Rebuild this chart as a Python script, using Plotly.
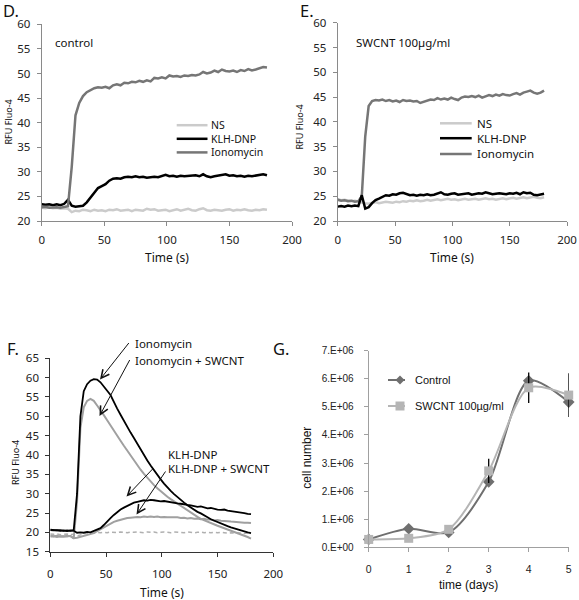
import plotly.graph_objects as go

W, H = 579, 600

# ---------------- data ----------------
time_s = list(range(0, 181, 3))

# Panel D (control)
d_ns = [22.7, 22.6, 22.8, 22.6, 22.7, 22.5, 22.6, 22.5, 21.8, 22.1, 22.0, 22.3, 22.2, 22.0, 22.3, 22.1,
        22.2, 22.0, 22.3, 22.2, 22.4, 22.1, 22.2, 22.3, 22.0, 22.3, 22.2, 22.1, 22.5, 22.3, 22.4, 22.1,
        22.2, 22.3, 22.0, 22.2, 22.4, 22.1, 22.3, 22.5, 22.2, 22.1, 22.4, 22.6, 22.2, 22.1, 22.3, 22.2,
        22.1, 22.3, 22.4, 22.1, 22.3, 22.2, 22.4, 22.2, 22.1, 22.3, 22.2, 22.4, 22.3]
d_klh = [23.4, 23.3, 23.4, 23.2, 23.4, 23.2, 23.5, 24.3, 23.1, 22.9, 23.0, 23.1, 23.8, 24.8, 25.8, 26.7,
         27.1, 27.5, 28.2, 28.6, 28.7, 28.6, 28.9, 29.0, 28.9, 29.1, 28.9, 29.0, 28.8, 28.9, 29.0, 28.9,
         29.2, 29.4, 29.1, 29.2, 29.0, 29.2, 29.1, 29.2, 29.2, 29.3, 29.1, 29.5, 29.1, 28.9, 29.1, 29.2,
         29.4, 29.5, 29.2, 29.3, 29.1, 29.2, 29.0, 29.2, 29.1, 29.2, 29.3, 29.5, 29.3]
d_iono = [22.8, 22.9, 22.7, 22.8, 22.8, 22.7, 22.8, 23.0, 31.0, 41.5, 44.0, 45.4, 46.2, 46.6, 47.0, 47.2,
          47.1, 47.3, 47.0, 47.6, 47.8, 47.6, 48.1, 48.0, 48.3, 48.2, 48.5, 48.3, 48.6, 48.4, 49.1, 49.0,
          49.2, 49.0, 49.6, 49.4, 49.5, 49.3, 49.6, 49.5, 49.7, 49.6, 49.8, 50.3, 50.0, 50.2, 50.6, 50.3,
          50.8, 50.5, 50.4, 50.6, 50.3, 50.7, 50.5, 50.9, 50.6, 50.8, 51.0, 51.3, 51.2]

# Panel E (SWCNT 100 ug/ml)
e_ns = [24.4, 24.2, 24.3, 24.1, 24.0, 24.1, 23.9, 23.8, 23.6, 23.5, 23.6, 23.8, 23.6, 23.7, 23.9, 23.8,
        23.7, 23.9, 23.8, 24.0, 23.9, 24.1, 24.0, 24.2, 24.0, 24.1, 24.3, 24.1, 24.2, 24.4, 24.2, 24.3,
        24.5, 24.3, 24.4, 24.2, 24.4, 24.5, 24.3, 24.4, 24.5, 24.3, 24.4, 24.6, 24.4, 24.5, 24.3, 24.5,
        24.6, 24.4, 24.5, 24.7, 24.5, 24.6, 24.8, 24.6, 24.7, 24.9, 24.7, 24.6, 24.8]
e_klh = [22.9, 23.0, 22.9, 23.1, 23.0, 23.1, 23.0, 25.2, 22.5, 22.8, 23.6, 24.2, 24.5, 24.9, 25.2, 25.1,
         25.4, 25.3, 25.6, 25.7, 25.5, 25.2, 25.3, 25.1, 25.3, 25.2, 25.4, 25.2, 25.3, 25.5, 25.8, 25.4,
         25.3, 25.5, 25.6, 25.3, 25.4, 25.5, 25.6, 25.3, 25.4, 25.6, 25.5, 25.8, 25.6, 25.4, 25.5, 25.6,
         25.5, 25.4, 25.6, 25.5, 25.7, 25.4, 25.8, 25.6, 25.7, 25.3, 25.2, 25.4, 25.5]
e_iono = [24.3, 24.1, 24.2, 24.0, 24.1, 23.9, 24.0, 25.0, 37.0, 43.2, 44.2, 44.4, 44.3, 44.5, 44.2, 44.4,
          44.1, 44.3, 44.0, 44.4, 44.2, 44.3, 44.1, 44.2, 43.8, 44.0, 44.3, 44.5, 44.4, 44.8, 44.5, 44.7,
          44.5, 44.9, 44.6, 44.4, 44.9, 45.1, 45.0, 45.2, 45.0, 45.3, 44.9, 45.2, 45.4, 45.2, 45.5, 45.3,
          45.6, 45.4, 45.3, 45.6, 45.8, 45.5, 45.9, 46.1, 46.3, 45.9, 45.7, 45.9, 46.3]

# Panel F
f_iono = [20.7, 20.6, 20.5, 20.6, 20.4, 20.5, 20.4, 20.6, 30.0, 50.0, 56.5, 58.3, 59.2, 59.6, 59.5, 58.8,
          57.8, 56.6, 55.5, 53.6, 52.0, 50.4, 48.8, 47.3, 45.8, 44.4, 42.9, 41.4, 40.0, 38.6, 37.3, 36.0,
          34.8, 33.7, 32.6, 31.6, 30.7, 29.9, 29.1, 28.3, 27.7, 27.0, 26.4, 25.9, 25.3, 24.9, 24.3, 23.9,
          23.4, 23.0, 22.6, 22.2, 21.9, 21.6, 21.3, 21.0, 20.8, 20.6, 20.3, 20.0, 19.8]
f_iono_swcnt = [19.2, 19.0, 19.1, 18.9, 19.0, 18.9, 19.1, 18.4, 28.0, 47.0, 52.3, 54.0, 54.5, 54.0, 52.8, 51.4,
                50.3, 49.0, 47.6, 46.3, 45.0, 43.7, 42.4, 41.1, 39.8, 38.6, 37.4, 36.2, 35.1, 34.1, 33.1, 32.2,
                31.4, 30.6, 29.9, 29.2, 28.6, 28.0, 27.4, 26.8, 26.2, 25.6, 25.0, 24.5, 24.0, 23.5, 23.1, 22.7,
                22.4, 22.0, 21.7, 21.4, 21.1, 20.8, 20.5, 20.2, 19.9, 19.6, 19.2, 18.8, 18.4]
f_klh = [20.6, 20.5, 20.6, 20.4, 20.5, 20.3, 20.5, 20.4, 19.9, 20.0, 19.9, 20.1, 20.0, 20.3, 20.6, 21.1,
         21.9, 22.9, 23.7, 24.5, 25.3, 25.9, 26.4, 26.9, 27.3, 27.7, 27.9, 28.1, 28.3, 28.2, 28.4, 28.3,
         28.1, 28.0, 28.1, 27.9, 27.8, 27.6, 27.5, 27.4, 27.2, 27.1, 27.0, 26.8, 26.6, 26.7, 26.4, 26.2,
         26.3, 26.0, 25.9, 25.8, 25.9, 25.6, 25.5, 25.4, 25.3, 25.2, 25.0, 24.8, 24.7]
f_klh_swcnt = [18.9, 19.0, 18.8, 19.0, 18.9, 19.1, 19.0, 18.5, 18.6, 18.8, 19.0, 19.2, 19.5, 19.8, 20.3, 20.8,
               21.3, 21.8, 22.3, 22.7, 23.0, 23.3, 23.5, 23.7, 23.8, 23.9, 24.0, 23.9, 24.1, 24.0, 24.1, 24.0,
               24.1, 23.9, 24.0, 23.9, 23.9, 23.8, 23.9, 23.7, 23.8, 23.6, 23.7, 23.5, 23.6, 23.4, 23.5, 23.3,
               23.3, 23.1, 23.2, 23.0, 23.0, 22.9, 22.8, 22.7, 22.7, 22.6, 22.5, 22.5, 22.4]
f_ns = [19.6, 19.5, 19.6, 19.4, 19.5, 19.6, 19.4, 19.5, 19.1, 19.4, 19.6, 19.8, 19.9, 19.8, 20.0, 19.9,
        20.0, 19.9, 20.1, 20.0, 19.9, 20.1, 20.0, 19.9, 20.1, 20.0, 20.1, 20.0, 19.9, 20.1, 20.0, 20.1,
        19.9, 20.0, 20.1, 20.0, 19.9, 20.1, 20.0, 20.0, 19.9, 20.1, 20.0, 19.9, 20.0, 20.1, 19.9, 20.0,
        19.9, 20.0, 19.9, 20.0, 19.9, 19.8, 19.9, 19.8, 19.9, 19.8, 19.7, 19.8, 19.7]

# Panel G
days = [0, 1, 2, 3, 4, 5]
g_control = [0.28e6, 0.66e6, 0.53e6, 2.33e6, 5.93e6, 5.17e6]
g_swcnt = [0.28e6, 0.32e6, 0.64e6, 2.72e6, 5.68e6, 5.42e6]
g_swcnt_err = [0, 0, 0, 0.43e6, 0.54e6, 0.78e6]
g_ytickvals = [0, 1e6, 2e6, 3e6, 4e6, 5e6, 6e6, 7e6]
g_yticktext = ["0.E+00", "1.E+06", "2.E+06", "3.E+06", "4.E+06", "5.E+06", "6.E+06", "7.E+06"]

rfu_ticks_de = [20, 25, 30, 35, 40, 45, 50, 55, 60]
rfu_ticks_f = [15, 20, 25, 30, 35, 40, 45, 50, 55, 60, 65]
time_ticks = [0, 50, 100, 150, 200]

# ---------------- helpers ----------------
def px(x):
    return x / W

def py(y):
    return 1 - y / H

FONT = "'Noto Sans', 'Open Sans', sans-serif"
AFONT = "'Liberation Sans', Arial, sans-serif"
BLACK = "#000000"
DARK = "#767676"
LIGHT = "#cbcbcb"
FGRAY = "#a0a0a0"
FS = 11.5

fig = go.Figure()

def line(x, y, color, width, xa, ya, dash="solid", shape="linear"):
    fig.add_trace(go.Scatter(x=x, y=y, mode="lines", xaxis=xa, yaxis=ya,
                             line=dict(color=color, width=width, dash=dash, shape=shape),
                             showlegend=False, hoverinfo="skip"))

# D
line(time_s, d_ns, LIGHT, 2.5, "x", "y")
line(time_s, d_klh, BLACK, 2.5, "x", "y")
line(time_s, d_iono, DARK, 2.5, "x", "y")
# E
line(time_s, e_ns, LIGHT, 2.5, "x2", "y2")
line(time_s, e_iono, DARK, 2.5, "x2", "y2")
line(time_s, e_klh, BLACK, 2.5, "x2", "y2")
# F
line(time_s, f_ns, "#b0b0b0", 1.5, "x3", "y3", dash="4px,3px")
line(time_s, f_klh_swcnt, FGRAY, 2, "x3", "y3")
line(time_s, f_iono_swcnt, FGRAY, 2, "x3", "y3")
line(time_s, f_klh, BLACK, 1.8, "x3", "y3")
line(time_s, f_iono, BLACK, 1.8, "x3", "y3")
# G
fig.add_trace(go.Scatter(x=days, y=g_control, mode="lines+markers", xaxis="x4", yaxis="y4",
                         line=dict(color="#6f6f6f", width=2, shape="spline", smoothing=0.8),
                         marker=dict(symbol="diamond", size=9, color="#6f6f6f"),
                         cliponaxis=False, showlegend=False, hoverinfo="skip"))
fig.add_trace(go.Scatter(x=days, y=g_swcnt, mode="lines+markers", xaxis="x4", yaxis="y4",
                         line=dict(color="#b5b5b5", width=2, shape="spline", smoothing=0.8),
                         marker=dict(symbol="square", size=9, color="#b5b5b5"),
                         error_y=dict(type="data", array=g_swcnt_err, visible=True,
                                      color="#000000", thickness=1.3, width=0),
                         cliponaxis=False, showlegend=False, hoverinfo="skip"))

# ---------------- axes ----------------
def ax_common(color, size, fam):
    return dict(showline=True, linecolor=color, linewidth=1, ticks="outside", ticklen=4,
                tickcolor=color, tickwidth=1, showgrid=False, zeroline=False, automargin=False,
                tickfont=dict(family=fam, size=size, color="#222222"))

ag = "#8a8a8a"
fig.update_layout(
    template="none",
    xaxis=dict(domain=[px(41.7), px(292)], range=[0, 200], tickvals=time_ticks, anchor="y",
               ticklabelstandoff=4, **ax_common(ag, FS, FONT)),
    yaxis=dict(domain=[py(221), py(24.3)], range=[20, 60], tickvals=rfu_ticks_de, anchor="x",
               ticklabelstandoff=4, **ax_common(ag, FS, FONT)),
    xaxis2=dict(domain=[px(337.7), px(567)], range=[0, 200], tickvals=time_ticks, anchor="y2",
                ticklabelstandoff=4, **ax_common(ag, FS, FONT)),
    yaxis2=dict(domain=[py(221), py(22.7)], range=[20, 60], tickvals=rfu_ticks_de, anchor="x2",
                ticklabelstandoff=4, **ax_common(ag, FS, FONT)),
    xaxis3=dict(domain=[px(50.3), px(273.3)], range=[0, 200], tickvals=time_ticks, anchor="y3",
                ticklabelstandoff=7, **ax_common("#333333", FS, FONT)),
    yaxis3=dict(domain=[py(551.7), py(358.3)], range=[15, 65], tickvals=rfu_ticks_f, anchor="x3",
                ticklabelstandoff=4, **ax_common("#333333", FS, FONT)),
    xaxis4=dict(domain=[px(368.7), px(568.7)], range=[0, 5], tickvals=days, anchor="y4",
                ticklabelstandoff=8, **ax_common("#a0a0a0", 10.5, AFONT)),
    yaxis4=dict(domain=[py(547.3), py(350.7)], range=[0, 7e6], tickvals=g_ytickvals,
                ticktext=g_yticktext, anchor="x4", ticklabelstandoff=8,
                **ax_common("#a0a0a0", 10, AFONT)),
    width=W, height=H, margin=dict(l=0, r=0, t=0, b=0, autoexpand=False),
    paper_bgcolor="white", plot_bgcolor="white", showlegend=False,
)

# ---------------- text ----------------
ann = []
def text(x, y, s, size, fam=FONT, xanchor="left", angle=0, color="#111111"):
    ann.append(dict(x=px(x), y=py(y), xref="paper", yref="paper", text=s, showarrow=False,
                    xanchor=xanchor, yanchor="middle", textangle=angle, align="left",
                    font=dict(family=fam, size=size, color=color)))

# panel letters
text(1, 11, "D.", 16.5)
text(298, 11, "E.", 16.5)
text(5, 348, "F.", 16.5)
text(271, 348, "G.", 16.5)
# axis titles
text(166.8, 257, "Time (s)", 12, xanchor="center")
text(452.3, 258, "Time (s)", 12, xanchor="center")
text(161.8, 592, "Time (s)", 12, xanchor="center")
text(7.5, 122, "RFU Fluo-4", 9, xanchor="center", angle=-90)
text(298.5, 127, "RFU Fluo-4", 9, xanchor="center", angle=-90)
text(15, 462, "RFU Fluo-4", 9, xanchor="center", angle=-90)
text(468.5, 585, "time (days)", 12, fam=AFONT, xanchor="center")
text(306.7, 458, "cell number", 12, fam=AFONT, xanchor="center", angle=-90)
# panel subtitles
text(53, 43, "control", FS)
text(354, 43, "SWCNT 100µg/ml", FS)

# legends D / E
shapes = []
def swatch(x0, x1, y, color, width):
    shapes.append(dict(type="line", xref="paper", yref="paper", x0=px(x0), x1=px(x1),
                       y0=py(y), y1=py(y), line=dict(color=color, width=width)))

legend_labels = ["NS", "KLH-DNP", "Ionomycin"]
legend_colors = [LIGHT, BLACK, DARK]
d_rows = [125.2, 138.8, 152.4]
for yy, col in zip(d_rows, legend_colors):
    swatch(176.7, 207.5, yy, col, 2.5)
text(208.5, 138.8, "<br>".join(legend_labels), 10.5)
e_rows = [123.3, 138.2, 154]
for yy, lbl, col in zip(e_rows, legend_labels, legend_colors):
    swatch(440, 471.7, yy, col, 2.5)
    text(475, yy, lbl, FS)

# legend G
swatch(388, 405, 380, "#6f6f6f", 2)
swatch(388, 405, 406, "#b5b5b5", 2)
cx, cy, r = 400, 380, 4.5
shapes.append(dict(type="path", xref="paper", yref="paper",
                   path=f"M {px(cx)},{py(cy - r)} L {px(cx + r)},{py(cy)} L {px(cx)},{py(cy + r)} L {px(cx - r)},{py(cy)} Z",
                   fillcolor="#6f6f6f", line=dict(width=0)))
shapes.append(dict(type="rect", xref="paper", yref="paper", x0=px(395.5), x1=px(404.5),
                   y0=py(401.5), y1=py(410.5), fillcolor="#b5b5b5", line=dict(width=0)))
text(412.5, 380, "Control", 11, fam=AFONT)
text(412.5, 406, "SWCNT 100µg/ml", 11, fam=AFONT)

# panel F labels and arrows
text(132.5, 343.5, "Ionomycin", FS)
text(132.5, 360.5, "Ionomycin + SWCNT", FS)
text(165.5, 454, "KLH-DNP", FS)
text(165.5, 468.5, "KLH-DNP + SWCNT", FS)

def arrow(tip, tail):
    ann.append(dict(x=px(tip[0]), y=py(tip[1]), xref="paper", yref="paper",
                    ax=tail[0] - tip[0], ay=tail[1] - tip[1],
                    text="", showarrow=True, arrowhead=5, arrowsize=1.6, arrowwidth=1,
                    arrowcolor="#111111", standoff=0))

arrow((100, 379.5), (130, 341.5))
arrow((99.5, 416), (130.5, 358.5))
arrow((126.5, 496.5), (155, 466.5))
arrow((136.5, 514.5), (166.5, 470))

fig.update_layout(annotations=ann, shapes=shapes)
fig.write_html("out.html", config={"displayModeBar": False},
               post_script="document.body.style.margin='0';document.body.style.overflow='hidden';")
